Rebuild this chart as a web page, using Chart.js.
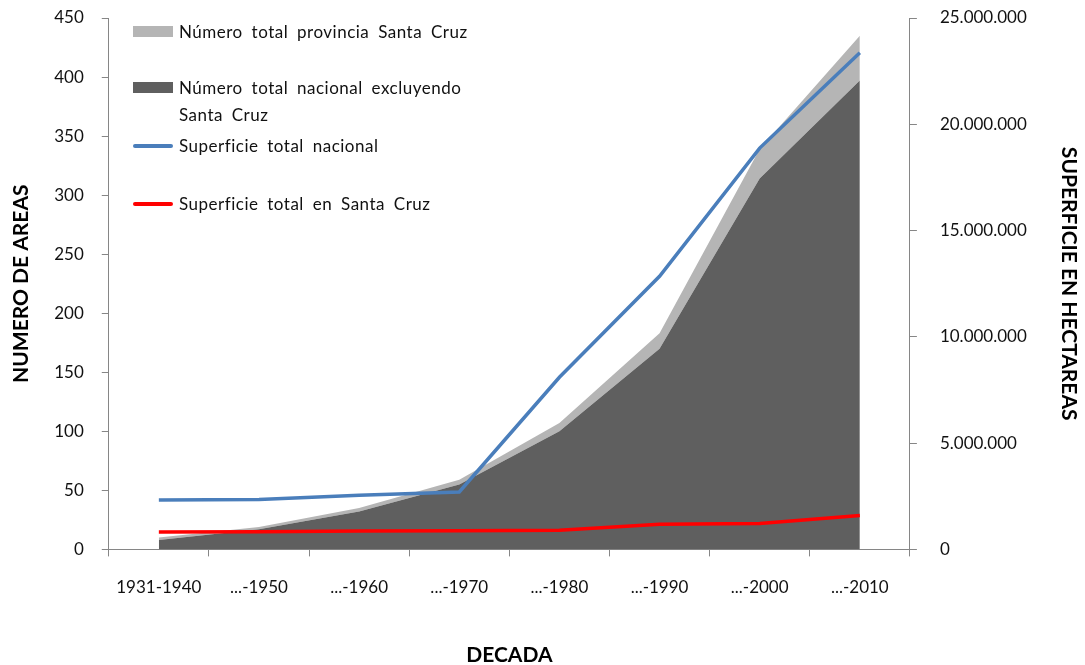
<!DOCTYPE html>
<html lang="es">
<head>
<meta charset="UTF-8">
<title>Areas protegidas por decada</title>
<style>
  body { margin: 0; background: #fff; }
  #wrap { position: relative; width: 1085px; height: 665px; overflow: hidden; }
  #legend { position: absolute; left: 133px; top: 18px; font-family: Lato, "Open Sans", sans-serif; font-size: 17px; letter-spacing: 0.5px; word-spacing: 4px; color: #111; }
  .item { position: absolute; left: 0; white-space: nowrap; line-height: 27px; }
  .sw { position: absolute; left: 0; width: 40px; }
  .txt { position: absolute; left: 46px; }
</style>
</head>
<body>
<div id="wrap">
  <canvas id="myChart" width="1085" height="665"></canvas>
  <div id="legend"></div>
</div>

<script src="https://cdn.jsdelivr.net/npm/chart.js"></script>
<script>
const decadas = ['1931-1940', '...-1950', '...-1960', '...-1970', '...-1980', '...-1990', '...-2000', '...-2010']
// numero de areas
const nacionalExcluyendoSC = [8, 17, 32, 55, 100, 170, 314, 397]
const provinciaSC = [2, 2, 3, 4, 7, 13, 25, 38]
// superficie en hectareas
const superficieNacional = [2320000, 2350000, 2550000, 2700000, 8100000, 12850000, 18880000, 23370000]
const superficieSC = [820000, 830000, 860000, 880000, 900000, 1180000, 1220000, 1600000]

const ticksIzq = { min: 0, max: 450, step: 50 }
const ticksDer = { min: 0, max: 25000000, step: 5000000 }

const gris = '#868686'
const fuente = 'Lato, "Open Sans", sans-serif'

const puntos = n => String(n).replace(/\B(?=(\d{3})+(?!\d))/g, '.')
// el padding de los ticks no debe empujar el borde superior
const ajustarBorde = s => { s.paddingTop = 18; s.paddingBottom = 10 }

var ctx = document.getElementById('myChart')
var myChart = new Chart(ctx, {
    type: 'line',
    data: {
        labels: decadas,
        datasets: [
            {
                label: 'Número total nacional excluyendo Santa Cruz',
                data: nacionalExcluyendoSC,
                yAxisID: 'y',
                backgroundColor: '#5f5f5f',
                borderWidth: 0,
                pointRadius: 0,
                fill: 'origin',
                order: 2
            },
            {
                label: 'Número total provincia Santa Cruz',
                data: provinciaSC,
                yAxisID: 'y',
                backgroundColor: '#b5b5b5',
                borderWidth: 0,
                pointRadius: 0,
                fill: '-1',
                order: 2
            },
            {
                label: 'Superficie total nacional',
                data: superficieNacional,
                yAxisID: 'y2',
                borderColor: '#4a7ebb',
                borderWidth: 3.5,
                pointRadius: 0,
                fill: false,
                order: 1
            },
            {
                label: 'Superficie total en Santa Cruz',
                data: superficieSC,
                yAxisID: 'y2',
                borderColor: '#ff0000',
                borderWidth: 3.5,
                pointRadius: 0,
                fill: false,
                order: 0
            }
        ]
    },
    options: {
        responsive: false,
        animation: false,
        layout: { padding: { top: 0, left: 0, right: 0, bottom: -3 } },
        plugins: { legend: { display: false }, tooltip: { enabled: false } },
        scales: {
            x: {
                offset: true,
                grid: { offset: true, drawOnChartArea: false, color: gris, tickLength: 7 },
                border: { color: gris },
                ticks: { color: '#111', padding: 21, font: { family: fuente, size: 17 } },
                title: { display: true, text: 'DECADA', color: '#000', padding: { top: 24, bottom: 0 }, font: { family: fuente, size: 21, weight: 'bold' } }
            },
            y: {
                position: 'left',
                stacked: true,
                min: ticksIzq.min, max: ticksIzq.max,
                afterFit: ajustarBorde,
                ticks: { stepSize: ticksIzq.step, color: '#111', padding: 18, font: { family: fuente, size: 17 } },
                grid: { drawOnChartArea: false, color: gris, tickLength: 7 },
                border: { color: gris },
                title: { display: true, text: 'NUMERO DE AREAS', color: '#000', padding: { top: 9, bottom: 2 }, font: { family: fuente, size: 21, weight: 'bold' } }
            },
            y2: {
                position: 'right',
                min: ticksDer.min, max: ticksDer.max,
                afterFit: ajustarBorde,
                ticks: { stepSize: ticksDer.step, color: '#111', padding: 23, font: { family: fuente, size: 17 }, callback: v => puntos(v) },
                grid: { drawOnChartArea: false, color: gris, tickLength: 7 },
                border: { color: gris },
                title: { display: true, text: 'SUPERFICIE EN HECTAREAS', color: '#000', padding: { top: 4, bottom: 6 }, font: { family: fuente, size: 21, weight: 'bold' } }
            }
        }
    }
})

// leyenda dentro del grafico
const leyenda = [
    { texto: 'Número total provincia Santa Cruz', color: '#b5b5b5', tipo: 'caja', top: 0 },
    { texto: 'Número total nacional excluyendo<br>Santa Cruz', color: '#5f5f5f', tipo: 'caja', top: 56 },
    { texto: 'Superficie total nacional', color: '#4a7ebb', tipo: 'linea', top: 114 },
    { texto: 'Superficie total en Santa Cruz', color: '#ff0000', tipo: 'linea', top: 172 }
]
let body = ''
leyenda.forEach(el => {
    const sw = el.tipo === 'caja'
        ? `<span class="sw" style="top:8px;height:11px;background:${el.color}"></span>`
        : `<span class="sw" style="top:12px;height:4px;border-radius:2px;background:${el.color}"></span>`
    body += `<div class="item" style="top:${el.top}px">${sw}<span class="txt">${el.texto}</span></div>`
})
document.getElementById('legend').innerHTML = body
</script>
</body>
</html>
